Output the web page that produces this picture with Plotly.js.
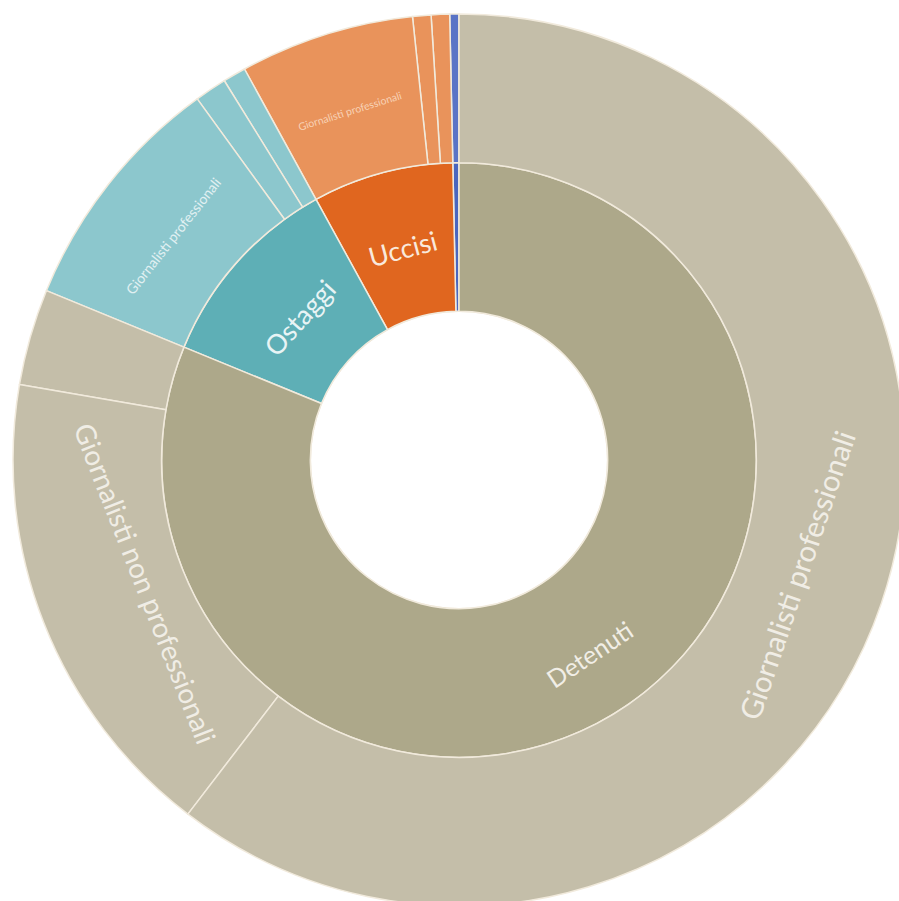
<!DOCTYPE html>
<html>
<head>
<meta charset="utf-8">
<script src="https://cdn.plot.ly/plotly-3.0.1.min.js"></script>
<style>
html,body{margin:0;padding:0;overflow:hidden;background:#fff;}
#chart{width:905px;height:906px;}
</style>
</head>
<body>
<div id="chart"></div>
<script>
// Hierarchy (listed counterclockwise from 12 o'clock)
const ids = [
  "root",
  "Scomparsi", "Uccisi", "Ostaggi", "Detenuti",
  "Scomparsi-prof",
  "Uccisi-collab", "Uccisi-nonprof", "Uccisi-prof",
  "Ostaggi-collab", "Ostaggi-nonprof", "Ostaggi-prof",
  "Detenuti-collab", "Detenuti-nonprof", "Detenuti-prof"
];
const labels = [
  "",
  "Scomparsi", "Uccisi", "Ostaggi", "Detenuti",
  "Giornalisti professionali",
  "Collaboratori dei media", "Giornalisti non professionali", "Giornalisti professionali",
  "Collaboratori dei media", "Giornalisti non professionali", "Giornalisti professionali",
  "Collaboratori dei media", "Giornalisti non professionali", "Giornalisti professionali"
];
const parents = [
  "",
  "root", "root", "root", "root",
  "Scomparsi",
  "Uccisi", "Uccisi", "Uccisi",
  "Ostaggi", "Ostaggi", "Ostaggi",
  "Detenuti", "Detenuti", "Detenuti"
];
const values = [
  601,
  2, 46, 65, 488,
  2,
  4, 4, 38,
  5, 7, 53,
  21, 104, 363
];
const colors = [
  "#ffffff",
  "#4a66be", "#e0661f", "#5eafb6", "#ada88a",
  "#5a74c6",
  "#e9935b", "#e9935b", "#e9935b",
  "#8cc7cd", "#8cc7cd", "#8cc7cd",
  "#c4bea9", "#c4bea9", "#c4bea9"
];
// label styling: which nodes show their label, size, colour, radial position (fraction of radius)
const showLabel = [false, false, true, true, true, false, false, false, true, false, false, true, false, true, true];
const labelSize = [10, 10, 27, 27, 25, 8, 8, 8, 10.5, 8, 8, 14, 8, 28, 29.5];
const labelColor = [
  "#ffffff",
  "#f4efe6", "#f9e9dc", "#e8f4f5", "#f1eee6",
  "#ffffff",
  "#f7cfb0", "#f7cfb0", "#f8d2b6",
  "#e3f2f4", "#e3f2f4", "#e0f0f2",
  "#f0ede5", "#f0ede5", "#f0ede5"
];
const labelRadius = [0, 0.49, 0.49, 0.48, 0.525, 0.82, 0.82, 0.82, 0.82, 0.82, 0.82, 0.815, 0.8, 0.755, 0.8];

// angular spans (same order the sunburst uses: sort off, counterclockwise from 12 o'clock)
const spanStart = new Array(ids.length).fill(0);
const spanEnd = new Array(ids.length).fill(0);
(function layoutSpans() {
  const idx = {};
  ids.forEach((id, i) => { idx[id] = i; });
  const rootI = parents.indexOf("");
  spanStart[rootI] = 0; spanEnd[rootI] = 360;
  const cursor = {};
  ids.forEach((id, i) => {
    if (i === rootI) return;
    const p = idx[parents[i]];
    const start = cursor[p] !== undefined ? cursor[p] : spanStart[p];
    const width = values[i] / values[p] * (spanEnd[p] - spanStart[p]);
    spanStart[i] = start; spanEnd[i] = start + width;
    cursor[p] = start + width;
  });
})();

const annotations = [];
ids.forEach((id, i) => {
  if (!showLabel[i]) return;
  const ccw = (spanStart[i] + spanEnd[i]) / 2;
  const cw = 360 - ccw;                 // clockwise from 12 o'clock
  const rad = cw * Math.PI / 180;
  const rho = labelRadius[i];
  let rot = cw;
  if (cw > 90 && cw < 270) rot = cw - 180;
  else if (cw >= 270) rot = cw - 360;
  annotations.push({
    xref: "paper", yref: "paper",
    x: 0.5 + 0.5 * rho * Math.sin(rad),
    y: 0.5 + 0.5 * rho * Math.cos(rad),
    xanchor: "center", yanchor: "middle",
    text: labels[i],
    textangle: rot,
    showarrow: false,
    font: {family: "Lato, 'Open Sans', sans-serif", size: labelSize[i], color: labelColor[i]}
  });
});

const trace = {
  type: "sunburst",
  ids: ids,
  labels: labels,
  parents: parents,
  values: values,
  branchvalues: "total",
  sort: false,
  rotation: 90,
  textinfo: "none",
  marker: {colors: colors, line: {color: "#f1eadc", width: 1.5}},
  leaf: {opacity: 1},
  hoverinfo: "label+value",
  domain: {x: [0, 1], y: [0, 1]}
};

Plotly.newPlot("chart", [trace], {
  width: 905,
  height: 906,
  margin: {l: 13, r: 0, t: 14, b: 0, pad: 0},
  paper_bgcolor: "#ffffff",
  showlegend: false,
  annotations: annotations
}, {displayModeBar: false, staticPlot: true});
</script>
</body>
</html>
